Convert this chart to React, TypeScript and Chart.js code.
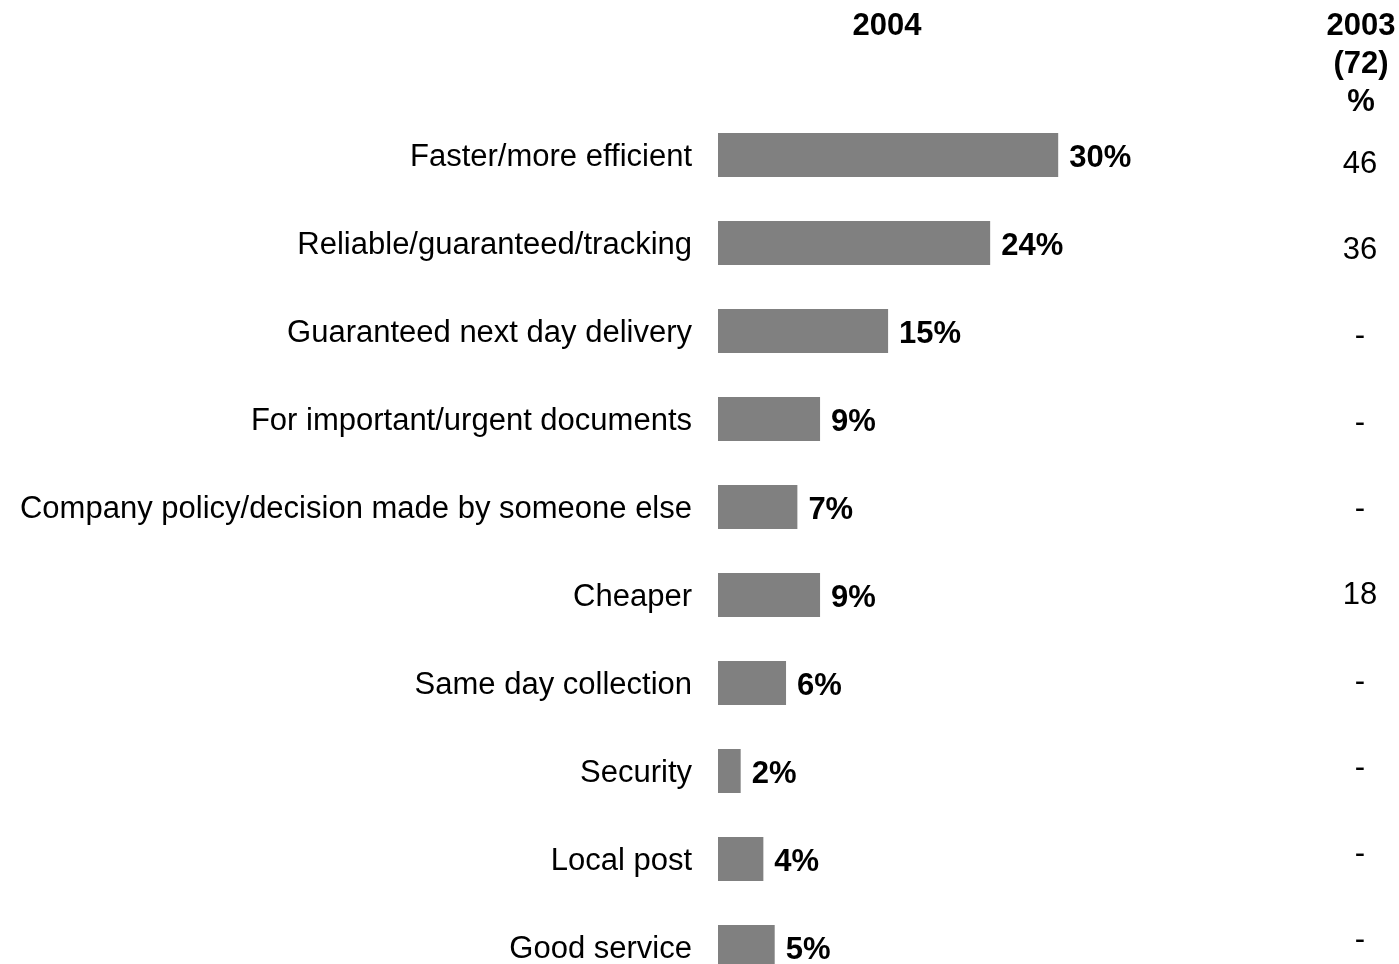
import React, { useEffect, useRef } from "react";
import { Chart, registerables } from "chart.js";

Chart.register(...registerables);

const categories = [
  "Faster/more efficient",
  "Reliable/guaranteed/tracking",
  "Guaranteed next day delivery",
  "For important/urgent documents",
  "Company policy/decision made by someone else",
  "Cheaper",
  "Same day collection",
  "Security",
  "Local post",
  "Good service",
];
const values2004 = [30, 24, 15, 9, 7, 9, 6, 2, 4, 5];
const values2003 = ["46", "36", "-", "-", "-", "18", "-", "-", "-", "-"];
const header2004 = "2004";
const header2003 = ["2003", "(72)", "%"];

const FONT = "Arial, 'Liberation Sans', sans-serif";

const overlayPlugin = {
  id: "overlay",
  afterDatasetsDraw(chart: any) {
    const ctx = chart.ctx;
    const meta = chart.getDatasetMeta(0);
    const yScale = chart.scales.y;
    const c0 = yScale.getPixelForValue(0);
    ctx.save();
    ctx.fillStyle = "#000";
    ctx.textBaseline = "middle";
    meta.data.forEach((bar: any, i: number) => {
      ctx.font = `bold 31px ${FONT}`;
      ctx.textAlign = "left";
      ctx.fillText(values2004[i] + "%", bar.x + 11, bar.y + 3);
      ctx.font = `31px ${FONT}`;
      ctx.textAlign = "center";
      const v = values2003[i];
      const ci = yScale.getPixelForValue(i);
      ctx.fillText(v, 1360, c0 + 9 + (ci - c0) * 0.981);
    });
    ctx.font = `bold 31px ${FONT}`;
    ctx.textAlign = "center";
    ctx.fillText(header2004, 887, 26);
    header2003.forEach((t, k) => {
      ctx.fillText(t, 1361, 26 + k * 38);
    });
    ctx.restore();
  },
};

export default function App() {
  const ref = useRef<HTMLCanvasElement>(null);
  useEffect(() => {
    if (!ref.current) return;
    const chart = new Chart(ref.current, {
      type: "bar",
      data: {
        labels: categories,
        datasets: [
          {
            data: values2004,
            backgroundColor: "#808080",
            borderWidth: 0,
            barPercentage: 0.5,
            categoryPercentage: 1,
          },
        ],
      },
      options: {
        indexAxis: "y",
        animation: false,
        responsive: true,
        maintainAspectRatio: false,
        layout: { padding: { top: 111, right: 114, bottom: 0, left: 0 } },
        plugins: { legend: { display: false }, tooltip: { enabled: false } },
        scales: {
          x: { display: false, min: 0, max: 50 },
          y: {
            afterFit: (s: any) => {
              s.width = 718;
              s.paddingTop = 0;
              s.paddingBottom = 0;
            },
            grid: { display: false, drawTicks: false },
            border: { display: false },
            ticks: {
              padding: 26,
              labelOffset: 2,
              color: "#000",
              font: { family: FONT, size: 31 },
            },
          },
        },
      },
      plugins: [overlayPlugin],
    });
    return () => chart.destroy();
  }, []);
  return (
    <div style={{ position: "fixed", left: 0, top: 0, width: 1399, height: 964, overflow: "hidden", background: "#fff" }}>
      <div style={{ position: "relative", width: 1399, height: 991 }}>
        <canvas ref={ref} />
      </div>
    </div>
  );
}
